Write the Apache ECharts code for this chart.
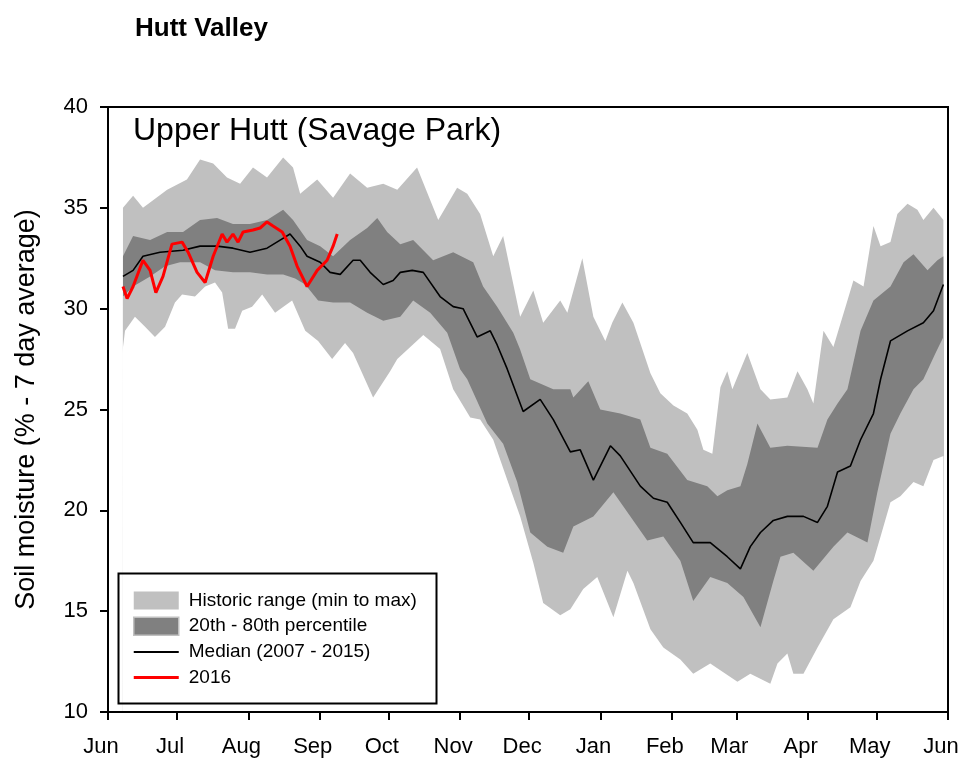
<!DOCTYPE html>
<html>
<head>
<meta charset="utf-8">
<script src="https://cdn.jsdelivr.net/npm/echarts@6/dist/echarts.min.js"></script>
<style>
    html, body { margin: 0; padding: 0; background: #fff; }
    #chart { width: 961px; height: 758px; }
</style>
</head>
<body>
<div id="chart"></div>
<script>
// days counted from 1 June
const monthStarts = [0, 30, 61, 92, 122, 153, 183, 214, 245, 273, 304, 334, 365];
const monthLabels = ['Jun', 'Jul', 'Aug', 'Sep', 'Oct', 'Nov', 'Dec', 'Jan', 'Feb', 'Mar', 'Apr', 'May', 'Jun'];

// [day, soil moisture %]
const histMax = [
    [6.5, 35.0], [10.9, 35.6], [15.2, 35.0], [25.7, 35.9], [34.3, 36.4], [40, 37.4], [45.7, 37.2],
    [51.7, 36.5], [57.4, 36.2], [63, 37.0], [69.1, 36.5], [76.1, 37.5], [80.4, 37.0], [83.5, 35.7],
    [90.9, 36.4], [97.8, 35.5], [105.2, 36.7], [112.6, 36.0], [119.6, 36.2], [125.7, 35.9], [134.3, 37.0],
    [143.5, 34.4], [151.7, 36.0], [156.1, 35.7], [161.7, 34.7], [167.4, 32.6], [171.7, 33.6], [179.1, 29.6],
    [184.8, 30.9], [189.1, 29.3], [196.5, 30.4], [199.6, 29.8], [206.1, 32.5], [210.9, 29.6], [216.1, 28.4],
    [219.1, 29.3], [223.5, 30.3], [228.3, 29.3], [235.7, 26.8], [240, 25.8], [245.7, 25.2], [251.7, 24.8],
    [256.1, 24.0], [258.7, 23.0], [262.6, 22.8], [266.1, 26.1], [269.1, 26.9], [271.3, 26.0], [277.8, 27.8],
    [283.5, 26.0], [287.8, 25.5], [295.2, 25.6], [299.6, 26.9], [303.9, 26.0], [306.5, 25.3], [310.9, 28.9],
    [315.2, 28.1], [321.3, 30.4], [323.9, 31.4], [328.3, 31.1], [332.6, 34.1], [335.7, 33.1], [340, 33.3],
    [343, 34.7], [347.4, 35.2], [351.7, 34.9], [354.3, 34.4], [358.7, 35.0], [363, 34.4]
];
const pct80 = [
    [6.5, 32.6], [10.9, 33.6], [18.3, 33.4], [25.7, 33.8], [32.6, 33.8], [40, 34.4], [47.4, 34.5],
    [54.3, 34.2], [61.7, 34.2], [69.1, 34.4], [76.1, 34.9], [80.4, 34.4], [86.5, 33.4], [92.2, 33.1],
    [97.8, 32.6], [105.2, 33.4], [112.6, 34.0], [117, 34.5], [121.3, 33.8], [127, 33.2], [132.6, 33.4],
    [141.3, 32.4], [150, 32.8], [158.7, 32.3], [163, 31.1], [169.1, 30.1], [176.1, 28.8], [179, 28.0],
    [183.5, 26.5], [193.5, 26.0], [200.9, 26.0], [202.2, 25.6], [208.7, 26.4], [213.9, 25.0], [222.6, 24.8],
    [231.3, 24.5], [235.7, 23.1], [243, 22.8], [251.7, 21.5], [260.4, 21.2], [264.8, 20.7], [269.1, 21.0],
    [274.8, 21.2], [277.8, 22.3], [282.2, 24.3], [287.8, 23.1], [295.2, 23.2], [308.3, 23.1], [312.6, 24.5],
    [317, 25.3], [321.3, 26.0], [327, 28.9], [332.6, 30.4], [340, 31.1], [345.7, 32.3], [350, 32.7],
    [356.1, 31.9], [360.4, 32.4], [363, 32.6]
];
const pct20 = [
    [6.5, 30.6], [10.9, 31.1], [18.3, 31.6], [24.8, 32.1], [31.3, 32.3], [40, 32.3], [46.5, 31.9],
    [54.3, 31.8], [61.7, 31.8], [69.1, 31.7], [76.1, 31.7], [81.3, 31.5], [85.7, 31.2], [91.3, 30.4],
    [97.8, 30.3], [105.2, 30.3], [112.6, 29.8], [119.6, 29.4], [127, 29.6], [132.6, 30.4], [140, 29.8],
    [147.4, 28.8], [153, 27.0], [156.1, 26.5], [164.8, 24.3], [171.7, 23.3], [177.8, 21.4], [183.5, 18.9],
    [190.9, 18.2], [197.8, 17.9], [202.2, 19.2], [210.9, 19.7], [219.6, 20.9], [227, 19.7], [234.3, 18.5],
    [241.3, 18.7], [248.7, 17.5], [254.3, 15.5], [261.7, 16.7], [269.1, 16.4], [276.1, 15.7], [283.5, 14.2],
    [289.1, 16.5], [292.2, 17.7], [297.8, 17.9], [306.5, 17.0], [315.2, 18.2], [321.3, 18.9], [330, 18.4],
    [334.3, 20.9], [340, 23.8], [344.3, 24.8], [350, 26.0], [354.3, 26.5], [359.6, 27.8], [363, 28.6]
];
const histMin = [
    [6.2, 27.8], [6.5, 27.8], [7.4, 28.9], [11.7, 29.6], [16.1, 29.1], [20.4, 28.6], [24.8, 29.1], [29.1, 30.3],
    [32.2, 30.7], [37.8, 30.6], [42.2, 31.1], [46.5, 31.3], [49.6, 30.8], [52.2, 29.0], [55.2, 29.0],
    [58.3, 29.9], [62.6, 30.1], [67, 30.7], [72.6, 29.8], [80, 30.4], [85.7, 28.9], [91.3, 28.4],
    [97.4, 27.5], [103, 28.3], [106.5, 27.8], [115.2, 25.6], [122.6, 26.9], [125.7, 27.5], [137, 28.7],
    [144.3, 28.0], [150, 26.0], [157.4, 24.6], [161.7, 24.5], [167.4, 23.5], [173.5, 21.5], [179.1, 19.7],
    [184.8, 17.4], [189.1, 15.4], [196.5, 14.8], [200.9, 15.1], [206.5, 16.1], [212.6, 16.7], [219.6, 14.7],
    [225.7, 17.0], [228.3, 16.4], [235.7, 14.1], [241.3, 13.2], [248.7, 12.6], [254.3, 11.9], [261.7, 12.4],
    [273.5, 11.5], [279.1, 11.9], [287.8, 11.4], [290.9, 12.4], [295.2, 12.9], [297.8, 11.9], [302.2, 11.9],
    [308.3, 13.2], [315.2, 14.6], [322.6, 15.2], [327, 16.5], [332.6, 17.5], [335.7, 18.7], [340, 20.4],
    [344.3, 20.7], [350, 21.4], [354.3, 21.2], [358.7, 22.5], [363, 22.7], [363.3, 22.7]
];
const median = [
    [6.5, 31.6], [10.9, 31.9], [15.2, 32.6], [22.6, 32.8], [32.6, 32.9], [40, 33.1], [47.4, 33.1],
    [54.3, 33.0], [61.7, 32.8], [69.1, 33.0], [74.8, 33.4], [79.1, 33.7], [83.5, 33.1], [86.5, 32.6],
    [92.2, 32.3], [96.5, 31.8], [100.9, 31.7], [106.5, 32.4], [109.6, 32.4], [113.9, 31.8], [119.6, 31.2],
    [123.9, 31.4], [127, 31.8], [132.2, 31.9], [137, 31.8], [144.3, 30.6], [150, 30.1], [154.3, 30.0],
    [160.4, 28.6], [166.1, 28.9], [169.1, 28.2], [173.5, 27.0], [180.4, 24.9], [187.8, 25.5], [193.5, 24.5],
    [200.9, 22.9], [205.2, 23.0], [210.9, 21.5], [218.3, 23.2], [222.6, 22.7], [231.3, 21.2], [237, 20.6],
    [243, 20.4], [248.7, 19.4], [254.3, 18.4], [261.7, 18.4], [269.1, 17.7], [274.8, 17.1], [279.1, 18.2],
    [283.5, 18.9], [289.1, 19.5], [295.2, 19.7], [302.2, 19.7], [308.3, 19.4], [312.6, 20.2], [317, 21.9],
    [322.6, 22.2], [327, 23.5], [332.6, 24.8], [335.7, 26.5], [340, 28.4], [347.4, 28.9], [354.3, 29.3],
    [358.7, 29.9], [363, 31.2]
];
const year2016 = [
    [6.5, 31.1], [8.3, 30.5], [10.9, 31.1], [15.2, 32.4], [18.3, 31.9], [20.8, 30.8], [23.9, 31.6],
    [27.8, 33.2], [32.2, 33.3], [34.8, 32.8], [38.7, 31.8], [42.2, 31.3], [45.7, 32.6], [49.6, 33.7],
    [51.7, 33.3], [54.3, 33.7], [56.5, 33.3], [58.7, 33.8], [63, 33.9], [66.1, 34.0], [69.1, 34.3],
    [71.7, 34.1], [75.7, 33.8], [79.1, 33.1], [82.2, 32.1], [86.5, 31.1], [90.9, 31.9], [95.2, 32.4],
    [97.8, 33.1], [99.6, 33.7]
];

const LIGHT = '#c0c0c0';
const DARK = '#808080';
const FONT = 'Liberation Sans, Arial, sans-serif';

const chart = echarts.init(document.getElementById('chart'));

function band(name, data, color) {
    return {
        name: name,
        type: 'line',
        data: data,
        showSymbol: false,
        symbol: 'none',
        silent: true,
        lineStyle: { width: 0 },
        areaStyle: { color: color, opacity: 1, origin: 'start' },
        itemStyle: { color: color }
    };
}

const option = {
    animation: false,
    backgroundColor: '#fff',
    title: [
        {
            text: 'Hutt Valley',
            left: 130,
            top: 11,
            textStyle: { fontFamily: FONT, fontSize: 26, fontWeight: 'bold', color: '#000' }
        },
        {
            text: 'Upper Hutt (Savage Park)',
            left: 128,
            top: 110,
            textStyle: { fontFamily: FONT, fontSize: 32, fontWeight: 'normal', color: '#000' }
        }
    ],
    grid: {
        left: 108, right: 13, top: 107, bottom: 46,
        outerBoundsMode: 'none',
        containLabel: false,
        show: true,
        borderColor: '#000',
        borderWidth: 2,
        backgroundColor: 'transparent'
    },
    legend: {
        left: 133,
        top: 591,
        orient: 'vertical',
        itemWidth: 45,
        itemHeight: 18,
        itemGap: 6.5,
        padding: 0,
        textStyle: { fontFamily: FONT, fontSize: 19, color: '#000', padding: [0, 0, 0, 5] },
        data: [
            { name: 'Historic range (min to max)', icon: 'rect' },
            { name: '20th - 80th percentile', icon: 'rect', itemStyle: { borderColor: LIGHT, borderWidth: 1.5 } },
            { name: 'Median (2007 - 2015)', icon: 'path://M0,0 H45 V2 H0 Z' },
            { name: '2016', icon: 'path://M0,0 H45 V3 H0 Z' }
        ]
    },
    graphic: [
        {
            type: 'rect',
            left: 116,
            top: 571,
            shape: { width: 318, height: 130 },
            style: { fill: 'none', stroke: '#000', lineWidth: 2 },
            z: 100
        }
    ],
    xAxis: {
        type: 'value',
        min: 0,
        max: 365,
        z: 10,
        axisLine: { lineStyle: { color: '#000', width: 2 } },
        axisTick: { show: true, length: 8, lineStyle: { color: '#000', width: 2 }, customValues: monthStarts },
        splitLine: { show: false },
        axisLabel: {
            customValues: monthStarts,
            margin: 24,
            padding: [0, 14, 0, 0],
            color: '#000',
            fontFamily: FONT,
            fontSize: 22,
            formatter: function (v) {
                const i = monthStarts.indexOf(Math.round(v));
                return i >= 0 ? monthLabels[i] : '';
            }
        }
    },
    yAxis: {
        type: 'value',
        min: 10,
        max: 40,
        interval: 5,
        z: 10,
        name: 'Soil moisture (% - 7 day average)',
        nameLocation: 'middle',
        nameGap: 68,
        nameRotate: 90,
        nameTextStyle: { fontFamily: FONT, fontSize: 27, color: '#000' },
        axisLine: { show: true, lineStyle: { color: '#000', width: 2 } },
        axisTick: { show: true, length: 8, lineStyle: { color: '#000', width: 2 } },
        splitLine: { show: false },
        axisLabel: {
            margin: 20,
            color: '#000',
            fontFamily: FONT,
            fontSize: 22
        }
    },
    series: [
        band('Historic range (min to max)', histMax, LIGHT),
        band('20th - 80th percentile', pct80, DARK),
        band('p20', pct20, LIGHT),
        band('min', histMin, '#ffffff'),
        {
            name: 'Median (2007 - 2015)',
            type: 'line',
            data: median,
            showSymbol: false,
            symbol: 'none',
            lineStyle: { color: '#000', width: 1.6 },
            itemStyle: { color: '#000' }
        },
        {
            name: '2016',
            type: 'line',
            data: year2016,
            showSymbol: false,
            symbol: 'none',
            lineStyle: { color: '#ff0000', width: 3 },
            itemStyle: { color: '#ff0000' }
        }
    ]
};

chart.setOption(option);
</script>
</body>
</html>
